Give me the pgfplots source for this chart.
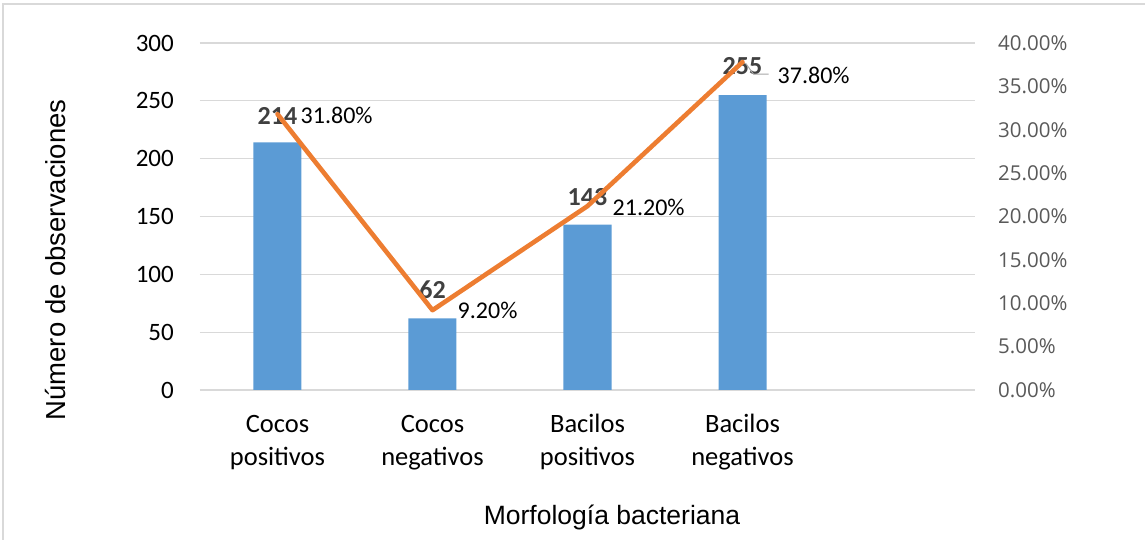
\documentclass[border=0pt]{standalone}
\usepackage{pgfplots}
\pgfplotsset{compat=1.18}
\usepackage{fontspec}
\setmainfont{Carlito}
\newfontfamily\arialfont{Liberation Sans}
\newfontfamily\opensans{Open Sans}

\definecolor{barblue}{HTML}{5B9BD5}
\definecolor{lineorange}{HTML}{ED7D31}
\definecolor{gridgray}{HTML}{D9D9D9}
\definecolor{ticktext}{HTML}{595959}
\definecolor{labeltext}{HTML}{404040}

\begin{document}
\begin{tikzpicture}
% page extent and chart frame
\useasboundingbox (-200pt,-150pt) rectangle (945pt,390pt);
\draw[gridgray, line width=1.2pt] (-197pt,-150pt) -- (-197pt,386pt) -- (945pt,386pt);

% counts (left axis)
\begin{axis}[
  at={(0pt,0pt)}, anchor=south west,
  width=775pt, height=347pt, scale only axis,
  xmin=-0.5, xmax=4.5, ymin=0, ymax=300,
  axis line style={draw=none},
  tick style={draw=none},
  /pgf/number format/assume math mode=true,
  ytick={0,50,...,300},
  ymajorgrids, grid style={gridgray, line width=1.3pt},
  yticklabel style={font=\fontsize{25}{30}\selectfont, anchor=east, inner sep=0pt, xshift=-26pt},
  xtick={0,1,2,3},
  xticklabels={{\strut Cocos\\positivos},{\strut Cocos\\negativos},{\strut Bacilos\\positivos},{\strut Bacilos\\negativos}},
  xticklabel style={font=\fontsize{26.5}{33}\selectfont, align=center, anchor=north, inner sep=0pt, yshift=-19pt},
  xlabel={Morfología bacteriana},
  xlabel style={font=\arialfont\fontsize{26.5}{30}\selectfont, at={(axis description cs:0.5316,-0.366)}, anchor=center},
  ylabel={Número de observaciones},
  ylabel style={font=\arialfont\fontsize{27.5}{30}\selectfont, at={(axis description cs:-0.187,0.375)}, anchor=center},
]
\addplot[ybar, bar width=48pt, fill=barblue, draw=none] coordinates {(0,214) (1,62) (2,143) (3,255)};
\end{axis}

% percentages (right axis)
\begin{axis}[
  at={(0pt,0pt)}, anchor=south west,
  width=775pt, height=347pt, scale only axis,
  xmin=-0.5, xmax=4.5, ymin=0, ymax=40,
  axis line style={draw=none},
  tick style={draw=none},
  xtick=\empty,
  ytick={0,5,...,40},
  yticklabel pos=right,
  yticklabel={\pgfmathprintnumber[assume math mode=true,fixed,fixed zerofill,precision=2]{\tick}\%},
  yticklabel style={font=\opensans\fontsize{20.5}{24}\selectfont, text=ticktext, anchor=west, inner sep=0pt, xshift=23pt},
]
% count labels, under the line
\begin{scope}[every node/.style={font=\bfseries\fontsize{26}{30}\selectfont, text=labeltext, inner sep=0pt, anchor=center}]
\node[yshift=-2pt] at (axis cs:0,31.8) {214};
\node[yshift=20pt] at (axis cs:1,9.2) {62};
\node[yshift=9pt] at (axis cs:2,21.2) {143};
\node[yshift=-4pt] at (axis cs:3,37.8) {255};
\end{scope}

\addplot[lineorange, line width=4.6pt, line join=round, line cap=round] coordinates {(0,31.8) (1,9.2) (2,21.2) (3,37.8)};

% percentage labels
\begin{scope}[every node/.style={font=\fontsize{24}{30}\selectfont, text=black, inner sep=0pt, anchor=west}]
\node[xshift=23pt, yshift=-1pt] at (axis cs:0,31.8) {31.80\%};
\node[xshift=25pt, yshift=0pt] at (axis cs:1,9.2) {9.20\%};
\node[xshift=25pt, yshift=-1pt] at (axis cs:2,21.2) {21.20\%};
\node[xshift=35pt, yshift=-13pt] at (axis cs:3,37.8) {37.80\%};
\end{scope}

% leader line of the last label
\draw[gray!70, line width=1pt] ([xshift=3pt,yshift=-1pt]axis cs:3,37.8) -- ([xshift=11pt,yshift=-12pt]axis cs:3,37.8) -- ([xshift=26pt,yshift=-12pt]axis cs:3,37.8);
\end{axis}
\end{tikzpicture}
\end{document}
